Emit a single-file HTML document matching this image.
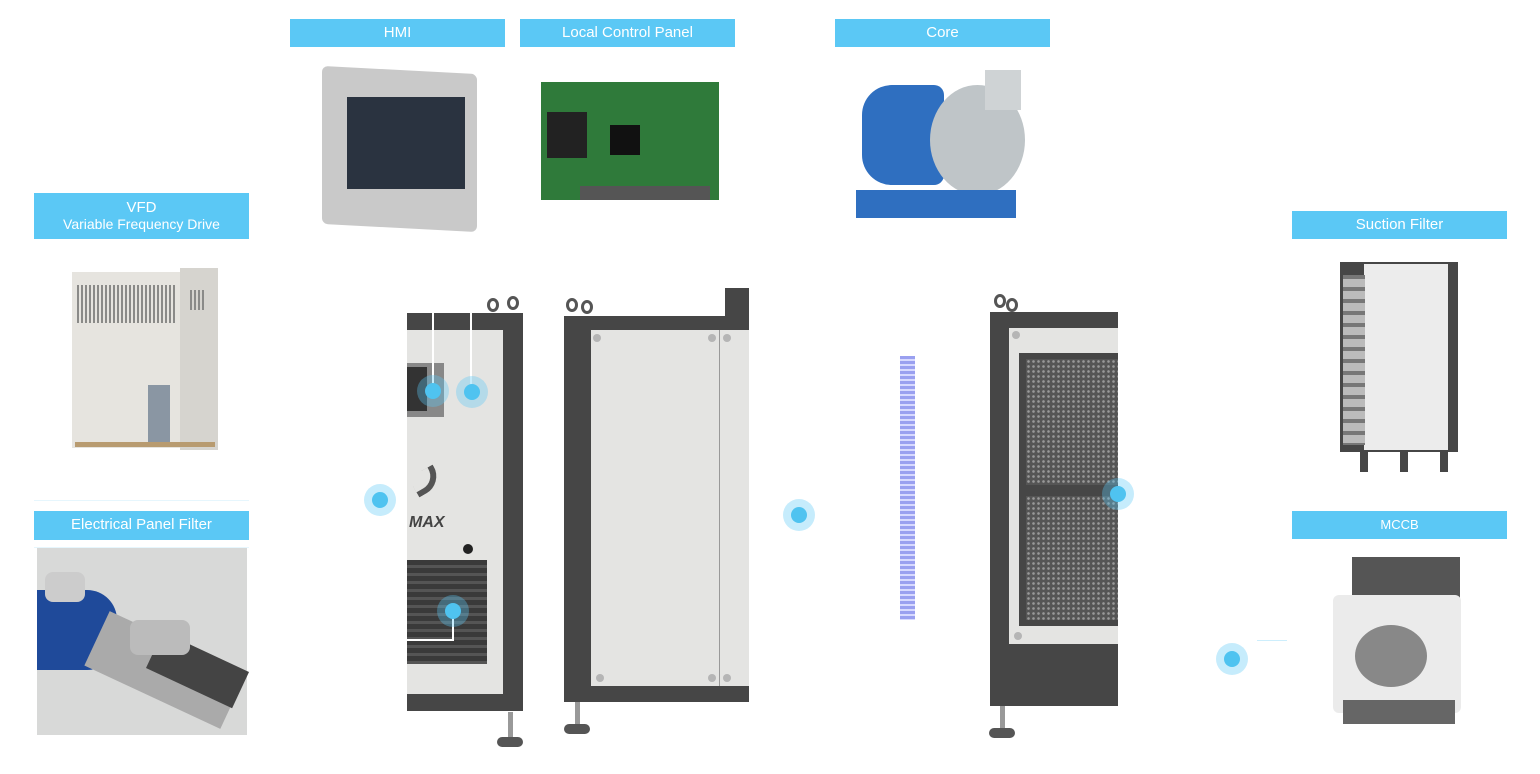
<!DOCTYPE html>
<html><head><meta charset="utf-8"><style>
*{margin:0;padding:0;box-sizing:border-box}
body{width:1540px;height:774px;background:#fff;position:relative;overflow:hidden;font-family:"Liberation Sans",sans-serif}
.a{position:absolute}
.lab{position:absolute;background:#5bc8f5;color:#fff;text-align:center;font-size:15px;line-height:28px}
.dot{position:absolute;width:32px;height:32px;border-radius:50%;background:rgba(91,200,245,.35)}
.dot:after{content:"";position:absolute;left:8px;top:8px;width:16px;height:16px;border-radius:50%;background:#4fc3f0}
.dk{background:#464646}
.lt{background:#e4e4e2}
.eye{position:absolute;width:12px;height:14px;border:3px solid #555;border-radius:50%}
.foot{position:absolute;width:26px;height:10px;border-radius:5px;background:#555}
.post{position:absolute;width:5px;background:#999}
.bolt{position:absolute;width:8px;height:8px;border-radius:50%;background:#b5b5b5}
</style></head><body>
<div class="lab" style="left:290px;top:19px;width:215px">HMI</div>
<div class="lab" style="left:520px;top:19px;width:215px">Local Control Panel</div>
<div class="lab" style="left:835px;top:19px;width:215px">Core</div>
<div class="lab" style="left:34px;top:193px;width:215px;height:46px;line-height:16px;padding-top:7px">VFD<br><span style="font-size:14px">Variable Frequency Drive</span></div>
<div class="lab" style="left:34px;top:511px;width:215px;height:29px">Electrical Panel Filter</div>
<div class="lab" style="left:1292px;top:211px;width:215px">Suction Filter</div>
<div class="lab" style="left:1292px;top:511px;width:215px;font-size:13px">MCCB</div>
<div class="a" style="left:34px;top:500px;width:215px;height:1px;background:#e6f6fd"></div>
<div class="a" style="left:34px;top:547px;width:215px;height:1px;background:#e6f6fd"></div>

<div class="a" style="left:322px;top:70px;width:155px;height:158px;background:#c9c9c9;border-radius:6px;transform:skewY(3deg)"></div>
<div class="a" style="left:347px;top:97px;width:118px;height:92px;background:#2a3340"></div>
<div class="a" style="left:541px;top:82px;width:178px;height:118px;background:#2f7a3a"></div>
<div class="a" style="left:547px;top:112px;width:40px;height:46px;background:#222"></div>
<div class="a" style="left:610px;top:125px;width:30px;height:30px;background:#111"></div>
<div class="a" style="left:580px;top:186px;width:130px;height:14px;background:#555"></div>
<div class="a" style="left:862px;top:85px;width:82px;height:100px;background:#2f6fc0;border-radius:30px 10px 10px 30px"></div>
<div class="a" style="left:930px;top:85px;width:95px;height:110px;background:#bfc5c8;border-radius:50%"></div>
<div class="a" style="left:985px;top:70px;width:36px;height:40px;background:#cfd3d5"></div>
<div class="a" style="left:856px;top:190px;width:160px;height:28px;background:#2f6fc0"></div>
<div class="a" style="left:72px;top:272px;width:110px;height:176px;background:#e6e4df"></div>
<div class="a" style="left:180px;top:268px;width:38px;height:182px;background:#d6d4cf"></div>
<div class="a" style="left:77px;top:285px;width:98px;height:38px;background:repeating-linear-gradient(90deg,#8a8a88 0 2px,#e6e4df 2px 4px)"></div>
<div class="a" style="left:190px;top:290px;width:14px;height:20px;background:repeating-linear-gradient(90deg,#8a8a88 0 2px,#d6d4cf 2px 4px)"></div>
<div class="a" style="left:148px;top:385px;width:22px;height:60px;background:#8a96a3"></div>
<div class="a" style="left:75px;top:442px;width:140px;height:5px;background:#b89b70"></div>
<div class="a" style="left:37px;top:548px;width:210px;height:187px;background:#d8d9d8"></div>
<div class="a" style="left:37px;top:590px;width:80px;height:80px;background:#1f4a9a;border-radius:0 30px 30px 0"></div>
<div class="a" style="left:90px;top:640px;width:150px;height:60px;background:#aaa;transform:rotate(25deg)"></div>
<div class="a" style="left:150px;top:650px;width:95px;height:40px;background:#444;transform:rotate(25deg)"></div>
<div class="a" style="left:45px;top:572px;width:40px;height:30px;background:#ccc;border-radius:8px"></div>
<div class="a" style="left:130px;top:620px;width:60px;height:35px;background:#bbb;border-radius:8px"></div>

<div class="a dk" style="left:407px;top:313px;width:116px;height:398px"></div>
<div class="a lt" style="left:407px;top:330px;width:96px;height:364px"></div>
<div class="a" style="left:407px;top:363px;width:37px;height:54px;background:#888"></div>
<div class="a" style="left:407px;top:367px;width:20px;height:44px;background:#333"></div>
<div class="a dk" style="left:407px;top:560px;width:80px;height:104px;background:repeating-linear-gradient(180deg,#3a3a3a 0 5px,#555 5px 8px)"></div>
<div class="a" style="left:409px;top:514px;font:italic bold 16px 'Liberation Sans';color:#444">MAX</div>
<div class="a" style="left:412px;top:470px;width:28px;height:22px;border-bottom:6px solid #555;border-right:6px solid #555;border-radius:0 0 20px 0;transform:rotate(-30deg)"></div>
<div class="a" style="left:463px;top:544px;width:10px;height:10px;border-radius:50%;background:#222"></div>
<div class="a" style="left:432px;top:312px;width:2px;height:78px;background:#fff"></div>
<div class="a" style="left:470px;top:312px;width:2px;height:78px;background:#fff"></div>
<div class="a" style="left:407px;top:639px;width:47px;height:2px;background:#fff"></div>
<div class="a" style="left:452px;top:610px;width:2px;height:31px;background:#fff"></div>
<div class="eye" style="left:487px;top:298px"></div><div class="eye" style="left:507px;top:296px"></div>
<div class="post" style="left:508px;top:712px;height:28px"></div><div class="foot" style="left:497px;top:737px"></div>
<div class="dot" style="left:417px;top:375px"></div>
<div class="dot" style="left:456px;top:376px"></div>
<div class="dot" style="left:364px;top:484px"></div>
<div class="dot" style="left:437px;top:595px"></div>

<div class="a dk" style="left:564px;top:316px;width:185px;height:386px"></div>
<div class="a lt" style="left:591px;top:330px;width:158px;height:356px"></div>
<div class="a" style="left:719px;top:330px;width:1px;height:356px;background:#999"></div>
<div class="a dk" style="left:725px;top:288px;width:24px;height:30px"></div>
<div class="bolt" style="left:593px;top:334px"></div><div class="bolt" style="left:708px;top:334px"></div><div class="bolt" style="left:723px;top:334px"></div>
<div class="bolt" style="left:596px;top:674px"></div><div class="bolt" style="left:708px;top:674px"></div><div class="bolt" style="left:723px;top:674px"></div>
<div class="eye" style="left:566px;top:298px"></div><div class="eye" style="left:581px;top:300px"></div>
<div class="post" style="left:575px;top:702px;height:26px"></div><div class="foot" style="left:564px;top:724px"></div>
<div class="dot" style="left:783px;top:499px"></div>

<div class="a" style="left:900px;top:356px;width:15px;height:264px;background:repeating-linear-gradient(180deg,#9aa0f0 0 3px,#d8daff 3px 5px)"></div>

<div class="a dk" style="left:990px;top:312px;width:128px;height:394px"></div>
<div class="a lt" style="left:1009px;top:328px;width:109px;height:316px"></div>
<div class="a dk" style="left:1019px;top:353px;width:99px;height:273px"></div>
<div class="a" style="left:1026px;top:359px;width:92px;height:126px;background:radial-gradient(circle,#999 1px,#555 1.6px) 0 0/5px 5px"></div>
<div class="a" style="left:1026px;top:496px;width:92px;height:124px;background:radial-gradient(circle,#999 1px,#555 1.6px) 0 0/5px 5px"></div>
<div class="bolt" style="left:1012px;top:331px"></div><div class="bolt" style="left:1014px;top:632px"></div>
<div class="eye" style="left:994px;top:294px"></div><div class="eye" style="left:1006px;top:298px"></div>
<div class="post" style="left:1000px;top:706px;height:24px"></div><div class="foot" style="left:989px;top:728px"></div>
<div class="dot" style="left:1102px;top:478px"></div>
<div class="dot" style="left:1216px;top:643px"></div>
<div class="a" style="left:1257px;top:640px;width:30px;height:1px;background:#cdeefc"></div>

<div class="a dk" style="left:1340px;top:262px;width:118px;height:190px"></div>
<div class="a" style="left:1364px;top:264px;width:84px;height:186px;background:#ececec"></div>
<div class="a" style="left:1343px;top:275px;width:22px;height:170px;background:repeating-linear-gradient(180deg,#777 0 4px,#bbb 4px 12px)"></div>
<div class="a dk" style="left:1360px;top:452px;width:98px;height:20px;background:repeating-linear-gradient(90deg,#464646 0 8px,#fff 8px 40px)"></div>
<div class="a" style="left:1352px;top:557px;width:108px;height:45px;background:#555"></div>
<div class="a" style="left:1333px;top:595px;width:128px;height:118px;background:#ebebeb;border-radius:6px"></div>
<div class="a" style="left:1355px;top:625px;width:72px;height:62px;border-radius:50%;background:#888"></div>
<div class="a" style="left:1343px;top:700px;width:112px;height:24px;background:#666"></div>
</body></html>
